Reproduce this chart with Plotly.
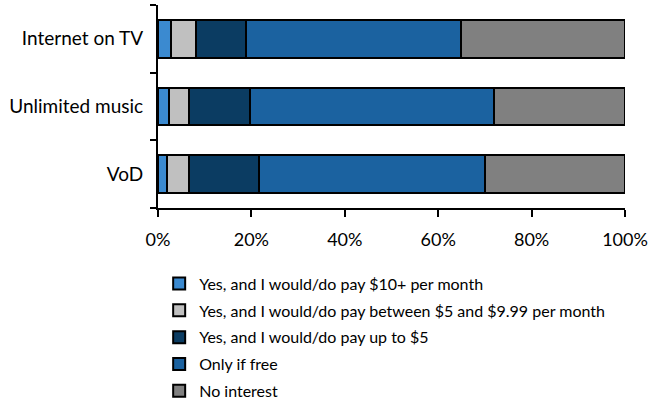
import plotly.graph_objects as go

categories = ["VoD", "Unlimited music", "Internet on TV"]
series_names = [
    "Yes, and I would/do pay $10+ per month",
    "Yes, and I would/do pay between $5 and $9.99 per month",
    "Yes, and I would/do pay up to $5",
    "Only if free",
    "No interest",
]
pay_10_plus = [2.0, 2.4, 2.7]
pay_5_to_10 = [4.6, 4.2, 5.4]
pay_up_to_5 = [15.0, 13.1, 10.7]
only_if_free = [48.4, 52.2, 46.1]
no_interest = [30.0, 28.1, 35.1]
x_ticks = [0, 20, 40, 60, 80, 100]
x_tick_labels = ["0%", "20%", "40%", "60%", "80%", "100%"]

colors = ["#3b8ad0", "#c0c0c0", "#0b3c62", "#1b62a0", "#808080"]
series = [pay_10_plus, pay_5_to_10, pay_up_to_5, only_if_free, no_interest]

FONT = "Lato"
fig = go.Figure()
for i, (name, vals) in enumerate(zip(series_names, series)):
    fig.add_trace(go.Bar(
        y=categories, x=vals, name=name, orientation="h",
        marker=dict(color=colors[i], line=dict(color="#000000", width=2)),
        legendgroup=f"g{i}",
    ))

fig.update_layout(
    width=655, height=409,
    barmode="stack", bargap=0.44,
    margin=dict(l=158, r=30, t=5, b=201, autoexpand=False),
    paper_bgcolor="white", plot_bgcolor="white",
    font=dict(family=FONT, color="#000000", size=17),
    legend=dict(
        xref="container", yref="container",
        x=0.243, y=0.348, xanchor="left", yanchor="top",
        traceorder="grouped", tracegroupgap=3,
        font=dict(size=16, family=FONT),
        itemwidth=30,
    ),
    xaxis=dict(
        range=[0, 100], tickvals=x_ticks, ticktext=x_tick_labels,
        showline=True, linecolor="#000000", linewidth=2,
        ticks="outside", ticklen=7, tickwidth=2, tickcolor="#000000",
        showgrid=False, zeroline=False,
        tickfont=dict(size=18), ticklabelstandoff=7,
    ),
    yaxis=dict(
        categoryorder="array", categoryarray=categories,
        showline=True, linecolor="#000000", linewidth=2,
        ticks="outside", ticklen=6, tickwidth=2, tickcolor="#000000",
        tickson="boundaries", showgrid=False,
        tickfont=dict(size=19), ticklabelstandoff=9,
    ),
)

fig.write_html("out.html")
